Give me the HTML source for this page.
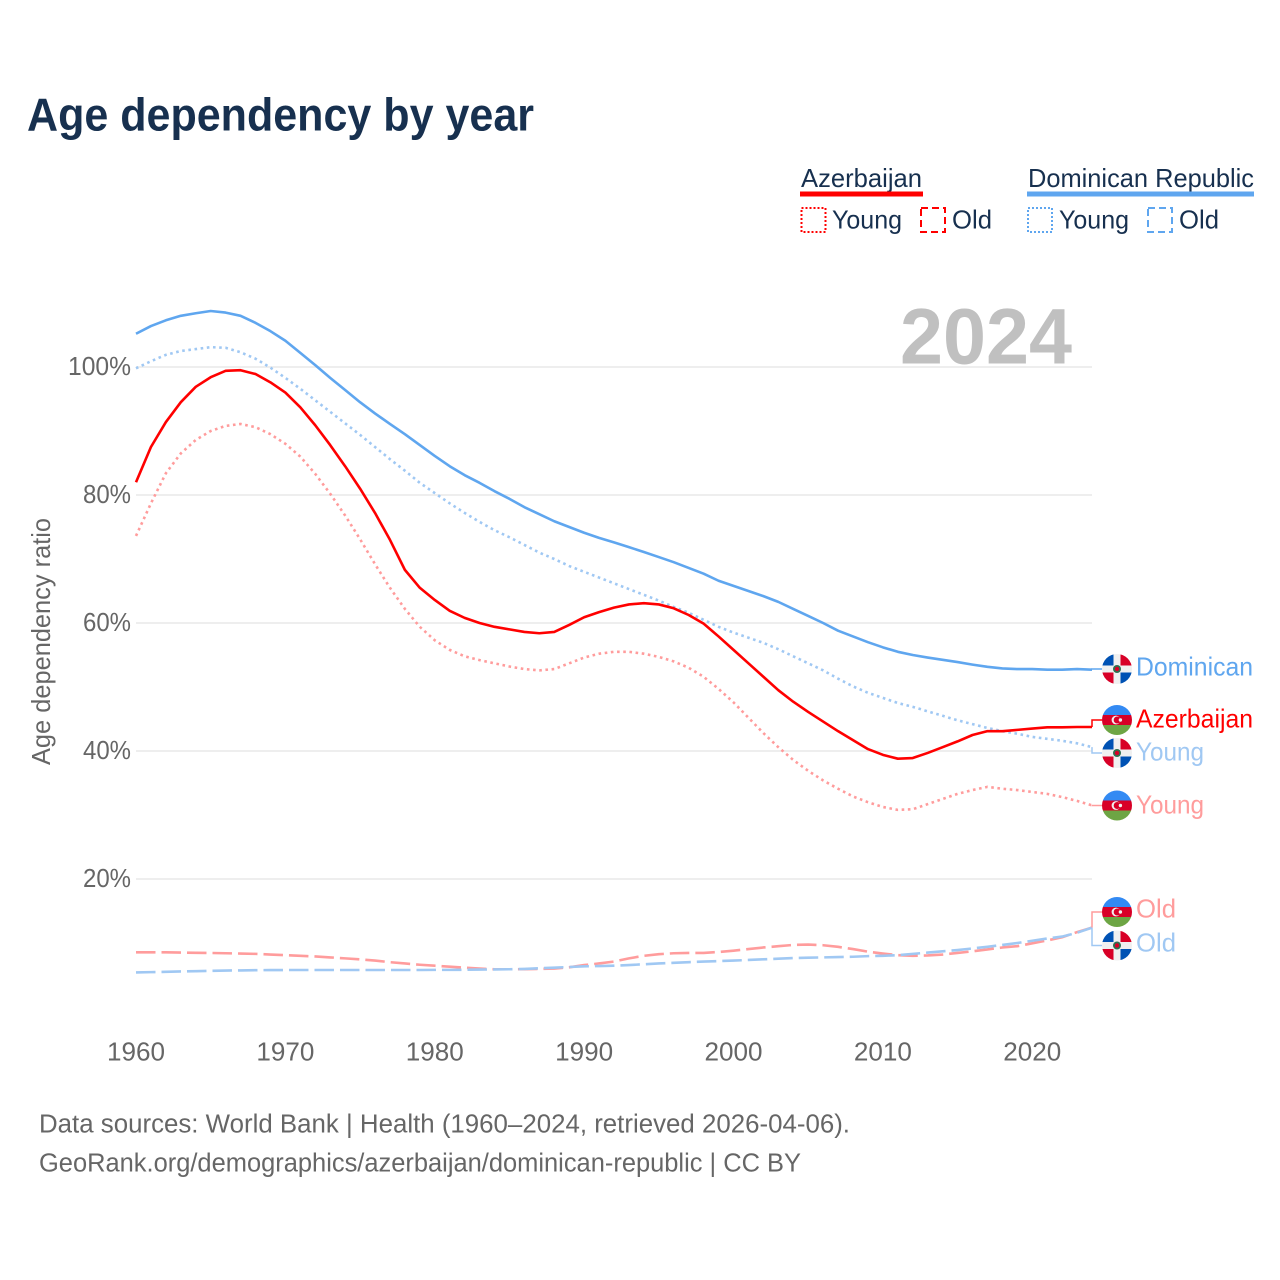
<!DOCTYPE html>
<html lang="en">
<head>
<meta charset="utf-8">
<title>Age dependency by year</title>
<style>
html,body{margin:0;padding:0;background:#fff;}
svg{display:block;font-family:"Liberation Sans",sans-serif;}
</style>
</head>
<body>
<svg id="chart" xmlns="http://www.w3.org/2000/svg" width="1280" height="1280" viewBox="0 0 1280 1280">
  <defs>
    <clipPath id="flag-clip"><circle cx="0" cy="0" r="15"/></clipPath>
    <g id="flag-dr" clip-path="url(#flag-clip)">
      <rect x="-15" y="-15" width="30" height="30" fill="#f0f0f0"/>
      <rect x="-15" y="-15" width="11.5" height="11.5" fill="#0052b4"/>
      <rect x="3.5" y="3.5" width="11.5" height="11.5" fill="#0052b4"/>
      <rect x="3.5" y="-15" width="11.5" height="11.5" fill="#d80027"/>
      <rect x="-15" y="3.5" width="11.5" height="11.5" fill="#d80027"/>
      <circle r="4" fill="#2f6f4f"/>
      <circle r="2.2" fill="#d80027"/>
    </g>
    <g id="flag-az" clip-path="url(#flag-clip)">
      <rect x="-15" y="-15" width="30" height="10" fill="#338af3"/>
      <rect x="-15" y="-5" width="30" height="10" fill="#d80027"/>
      <rect x="-15" y="5" width="30" height="10" fill="#6da544"/>
      <circle cx="-1" cy="0" r="4.4" fill="#f0f0f0"/>
      <circle cx="0.2" cy="0" r="3.5" fill="#d80027"/>
      <circle cx="3.4" cy="0" r="1.7" fill="#f0f0f0"/>
    </g>
  </defs>

  <text x="27" y="130.5" font-size="46" font-weight="700" fill="#17304f" textLength="507" lengthAdjust="spacingAndGlyphs">Age dependency by year</text>

  <g font-size="26" fill="#17304f">
    <text x="801" y="187" textLength="121" lengthAdjust="spacingAndGlyphs">Azerbaijan</text>
    <rect x="800" y="191.5" width="123" height="5" fill="#ff0000"/>
    <rect x="801.5" y="208" width="24" height="24" fill="none" stroke="#ff0000" stroke-width="2" stroke-dasharray="2 2"/>
    <text x="832" y="228.5" textLength="70" lengthAdjust="spacingAndGlyphs">Young</text>
    <rect x="921" y="208" width="24" height="24" fill="none" stroke="#ff0000" stroke-width="2" stroke-dasharray="7 4"/>
    <text x="952" y="228.5" textLength="40" lengthAdjust="spacingAndGlyphs">Old</text>

    <text x="1028" y="187" textLength="226" lengthAdjust="spacingAndGlyphs">Dominican Republic</text>
    <rect x="1027" y="191.5" width="227" height="5" fill="#5fa6ef"/>
    <rect x="1028" y="208" width="24" height="24" fill="none" stroke="#5fa6ef" stroke-width="2" stroke-dasharray="2 2"/>
    <text x="1059" y="228.5" textLength="70" lengthAdjust="spacingAndGlyphs">Young</text>
    <rect x="1148" y="208" width="24" height="24" fill="none" stroke="#5fa6ef" stroke-width="2" stroke-dasharray="7 4"/>
    <text x="1179" y="228.5" textLength="40" lengthAdjust="spacingAndGlyphs">Old</text>
  </g>

  <text transform="translate(50,765) rotate(-90)" font-size="26" fill="#666666" textLength="247" lengthAdjust="spacingAndGlyphs">Age dependency ratio</text>

  <g id="grid"></g>
  <g id="y-ticks"></g>
  <g id="x-ticks"></g>

  <text x="900" y="363.5" font-size="79" font-weight="700" fill="#c0c0c0" textLength="172" lengthAdjust="spacingAndGlyphs">2024</text>

  <g id="series"></g>
  <g id="end-labels"></g>

  <g font-size="25.5" fill="#666666">
    <text x="39" y="1132.5" textLength="811" lengthAdjust="spacingAndGlyphs">Data sources: World Bank | Health (1960–2024, retrieved 2026-04-06).</text>
    <text x="39" y="1171.5" textLength="762" lengthAdjust="spacingAndGlyphs">GeoRank.org/demographics/azerbaijan/dominican-republic | CC BY</text>
  </g>
</svg>

<script>
const firstYear = 1960;
const lastYear = 2024;
const yTickValues = [100, 80, 60, 40, 20];
const yTickLabels = ["100%", "80%", "60%", "40%", "20%"];
const xTickValues = [1960, 1970, 1980, 1990, 2000, 2010, 2020];
const xTickLabels = ["1960", "1970", "1980", "1990", "2000", "2010", "2020"];

const dominicanTotal = [105.2,106.4,107.3,108.0,108.4,108.75,108.5,108.0,106.9,105.6,104.1,102.2,100.3,98.3,96.4,94.5,92.75,91.1,89.5,87.8,86.1,84.5,83.1,81.9,80.6,79.4,78.1,77.0,75.9,75.0,74.1,73.3,72.6,71.85,71.1,70.3,69.5,68.6,67.7,66.6,65.8,65.0,64.2,63.3,62.2,61.1,60.0,58.8,57.9,57.0,56.2,55.5,55.0,54.6,54.25,53.9,53.5,53.15,52.9,52.8,52.8,52.7,52.7,52.8,52.7];
const dominicanYoung = [99.8,100.9,101.9,102.5,102.8,103.1,103.0,102.3,101.3,99.9,98.3,96.6,94.8,93.0,91.2,89.4,87.5,85.6,83.8,81.9,80.3,78.7,77.2,75.8,74.5,73.4,72.2,71.0,70.0,68.9,68.0,67.1,66.2,65.3,64.4,63.5,62.5,61.6,60.5,59.4,58.5,57.7,56.9,55.9,54.8,53.7,52.6,51.3,50.1,49.1,48.3,47.5,46.9,46.2,45.5,44.8,44.2,43.6,43.1,42.7,42.2,41.9,41.6,41.2,40.6];
const dominicanOld = [5.4,5.45,5.5,5.55,5.6,5.65,5.7,5.72,5.75,5.77,5.78,5.78,5.78,5.78,5.78,5.78,5.78,5.78,5.78,5.78,5.8,5.8,5.82,5.85,5.87,5.9,5.95,6.05,6.15,6.25,6.35,6.4,6.45,6.55,6.68,6.8,6.9,7.0,7.1,7.17,7.25,7.35,7.45,7.55,7.65,7.7,7.75,7.8,7.85,7.95,8.0,8.1,8.3,8.5,8.7,8.9,9.15,9.4,9.7,10.0,10.35,10.7,11.0,11.6,12.4];
const azerbaijanTotal = [82.0,87.5,91.4,94.5,96.9,98.4,99.4,99.5,98.9,97.6,96.0,93.7,90.9,87.8,84.5,81.0,77.2,73.0,68.3,65.5,63.6,61.9,60.8,60.0,59.4,59.0,58.6,58.4,58.6,59.7,60.9,61.7,62.4,62.9,63.1,62.9,62.3,61.25,59.9,57.9,55.8,53.7,51.6,49.5,47.7,46.1,44.6,43.1,41.7,40.3,39.4,38.8,38.9,39.7,40.6,41.5,42.5,43.1,43.1,43.3,43.5,43.7,43.7,43.75,43.75];
const azerbaijanYoung = [73.6,78.7,83.4,86.5,88.6,90.0,90.8,91.1,90.6,89.5,88.0,86.0,83.3,80.2,76.8,73.1,69.2,65.5,62.2,59.4,57.3,55.8,54.8,54.2,53.7,53.2,52.8,52.6,52.8,53.7,54.6,55.2,55.5,55.5,55.2,54.7,54.0,53.0,51.6,49.7,47.6,45.2,42.8,40.6,38.6,36.9,35.4,34.1,32.9,32.0,31.25,30.8,30.9,31.7,32.5,33.3,33.9,34.4,34.1,33.9,33.6,33.3,32.8,32.2,31.5];
const azerbaijanOld = [8.55,8.55,8.55,8.5,8.47,8.44,8.4,8.35,8.3,8.2,8.1,8.0,7.9,7.75,7.6,7.45,7.25,7.0,6.8,6.6,6.45,6.3,6.15,6.0,5.9,5.9,5.9,5.95,6.0,6.2,6.55,6.8,7.1,7.6,8.0,8.25,8.4,8.45,8.45,8.6,8.8,9.05,9.3,9.5,9.7,9.75,9.65,9.4,9.05,8.65,8.35,8.1,8.0,8.05,8.2,8.45,8.7,9.0,9.3,9.5,9.95,10.4,10.9,11.7,12.4];

const SVG_NS = "http://www.w3.org/2000/svg";
const xScale = year => 136 + (year - firstYear) * (1092 - 136) / (lastYear - firstYear);
const yScale = value => 1007 - 6.4 * value;

function make(tag, attrs, parent, content) {
  const el = document.createElementNS(SVG_NS, tag);
  for (const key in attrs) el.setAttribute(key, attrs[key]);
  if (content !== undefined) el.textContent = content;
  parent.appendChild(el);
  return el;
}

const gridGroup = document.getElementById("grid");
const yTickGroup = document.getElementById("y-ticks");
const xTickGroup = document.getElementById("x-ticks");
const seriesGroup = document.getElementById("series");
const labelGroup = document.getElementById("end-labels");

yTickValues.forEach((value, i) => {
  const line = make("line", {x1: 136, x2: 1092, y1: yScale(value), y2: yScale(value), stroke: "#eeeeee", "stroke-width": 2}, gridGroup);
  
  
  const label = make("text", {x: 131, y: yScale(value) + 8, "text-anchor": "end", "font-size": 26, fill: "#666666", textLength: yTickLabels[i].length === 4 ? 63 : 48, lengthAdjust: "spacingAndGlyphs"}, yTickGroup, yTickLabels[i]);
  
  
});

xTickValues.forEach((year, i) => {
  const label = make("text", {x: xScale(year), y: 1060.5, "text-anchor": "middle", "font-size": 26, fill: "#666666", textLength: 58, lengthAdjust: "spacingAndGlyphs"}, xTickGroup, xTickLabels[i]);
  
  
});

function drawLine(values, color, width, dash, name) {
  const d = values.map((v, i) => (i ? "L" : "M") + xScale(firstYear + i).toFixed(2) + " " + yScale(v).toFixed(2)).join("");
  const attrs = {d: d, fill: "none", stroke: color, "stroke-width": width, "stroke-linejoin": "round"};
  if (dash) attrs["stroke-dasharray"] = dash;
  const path = make("path", attrs, seriesGroup);
  
  
}

const BLUE = "#5fa6ef", RED = "#ff0000", LIGHT_BLUE = "#a0c8f3", LIGHT_RED = "#ff9c9c";
drawLine(dominicanTotal, BLUE, 2.6, null, "line-dominican-total");
drawLine(dominicanYoung, LIGHT_BLUE, 2.6, "2.6 3.6", "line-dominican-young");
drawLine(azerbaijanTotal, RED, 2.6, null, "line-azerbaijan-total");
drawLine(azerbaijanYoung, LIGHT_RED, 2.6, "2.6 3.6", "line-azerbaijan-young");
drawLine(azerbaijanOld, LIGHT_RED, 2.6, "19.5 6", "line-azerbaijan-old");
drawLine(dominicanOld, LIGHT_BLUE, 2.6, "19.5 6", "line-dominican-old");

function endLabel(values, labelY, baseline, text, color, flag, textWidth, name) {
  const last = yScale(values[values.length - 1]);
  const conn = make("path", {d: "M1092 " + last.toFixed(2) + "V" + labelY + "H1102", fill: "none", stroke: color, "stroke-width": 1.5}, labelGroup);
  
  
  const icon = make("use", {href: flag, x: 1117, y: labelY}, labelGroup);
  
  
  const label = make("text", {x: 1136, y: baseline, "font-size": 26, fill: color, textLength: textWidth, lengthAdjust: "spacingAndGlyphs"}, labelGroup, text);
  
  
}

endLabel(dominicanTotal, 669, 675.7, "Dominican", BLUE, "#flag-dr", 117, "end-dominican-total");
endLabel(azerbaijanTotal, 720, 727.3, "Azerbaijan", RED, "#flag-az", 117, "end-azerbaijan-total");
endLabel(dominicanYoung, 753, 760.5, "Young", LIGHT_BLUE, "#flag-dr", 68, "end-dominican-young");
endLabel(azerbaijanYoung, 805.5, 813.5, "Young", LIGHT_RED, "#flag-az", 68, "end-azerbaijan-young");
endLabel(azerbaijanOld, 912, 917.7, "Old", LIGHT_RED, "#flag-az", 40, "end-azerbaijan-old");
endLabel(dominicanOld, 945.5, 951.7, "Old", LIGHT_BLUE, "#flag-dr", 40, "end-dominican-old");
</script>
</body>
</html>
